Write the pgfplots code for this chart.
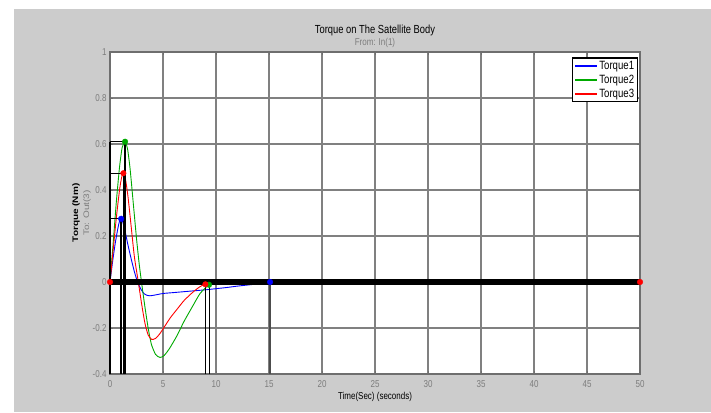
\documentclass[border=0pt]{standalone}
\usepackage{graphicx}
\usepackage{fontspec}
\setmainfont{Liberation Sans}[FakeStretch=0.8]
\newfontfamily\ylabfont{Liberation Sans}
\usepackage{pgfplots}
\pgfplotsset{compat=1.18}
\definecolor{bggray}{RGB}{204,204,204}
\definecolor{gridgray}{RGB}{128,128,128}
\definecolor{framegray}{RGB}{110,110,110}
\definecolor{ticklab}{RGB}{125,125,125}
\definecolor{mblue}{RGB}{0,0,255}
\definecolor{mgreen}{RGB}{0,170,0}
\definecolor{mred}{RGB}{255,0,0}
\begin{document}
\begin{tikzpicture}
\useasboundingbox (-110pt,-38pt) rectangle (601pt,374pt);
\fill[white] (-110pt,-38pt) rectangle (601pt,374pt);
\fill[bggray] (-96pt,-38pt) rectangle (601pt,365pt);
\begin{axis}[
  at={(0pt,0pt)}, anchor=south west,
  scale only axis, width=530pt, height=322pt,
  xmin=0, xmax=50, ymin=-0.4, ymax=1,
  axis background/.style={fill=white},
  xtick={0,5,...,50},
  xticklabels={0,5,10,15,20,25,30,35,40,45,50},
  ytick={-0.4,-0.2,0,0.2,0.4,0.6,0.8,1},
  yticklabels={-0.4,-0.2,0,0.2,0.4,0.6,0.8,1},
  tick label style={font=\fontsize{10}{12}\selectfont, text=ticklab},
  xticklabel style={yshift=-3pt},
  grid=major,
  major grid style={color=gridgray, line width=1.1pt},
  axis line style={color=framegray, line width=1.5pt},
  tick style={color=framegray, line width=0.8pt},
  tick align=inside, major tick length=3pt,
  legend style={at={(0.996,0.983)}, anchor=north east, draw=black, line width=1.2pt,
    fill=white, font=\fontsize{12}{13}\selectfont, inner xsep=2pt, inner ysep=2pt,
    row sep=1.5pt, nodes={inner sep=1.2pt}},
  legend cell align=left,
  legend image code/.code={\draw[#1, line width=2pt] (0pt,0pt) -- (22pt,0pt);},
  clip=false,
]
\addplot[color=mblue, line width=0.9pt, smooth, tension=0.4] coordinates {
(0,0) (0.25,0.09) (0.5,0.17) (0.75,0.235) (0.9,0.265) (1.05,0.275) (1.2,0.262) (1.4,0.225)
(1.7,0.16) (2.0,0.10) (2.3,0.045) (2.6,0.0) (2.9,-0.03) (3.2,-0.05) (3.5,-0.058) (3.77,-0.06)
(4.2,-0.057) (5,-0.05) (6,-0.046) (7,-0.042) (8,-0.038) (9,-0.034) (10,-0.029) (11,-0.024)
(12,-0.018) (13,-0.013) (14,-0.008) (15.1,-0.004) (17,-0.001) (20,0) (50,0)};
\addlegendentry{Torque1}
\addplot[color=mgreen, line width=0.9pt, smooth, tension=0.4] coordinates {
(0,0) (0.3,0.17) (0.6,0.35) (0.9,0.50) (1.15,0.585) (1.42,0.61) (1.65,0.58) (1.9,0.49)
(2.2,0.34) (2.5,0.19) (2.75,0.08) (3.0,-0.01) (3.3,-0.11) (3.6,-0.20) (3.9,-0.27) (4.3,-0.315)
(4.72,-0.328) (5.1,-0.32) (5.6,-0.29) (6.3,-0.235) (7.0,-0.17) (7.8,-0.105) (8.5,-0.05)
(9.34,-0.012) (10,-0.005) (12,0) (50,0)};
\addlegendentry{Torque2}
\addplot[color=mred, line width=0.9pt, smooth, tension=0.4] coordinates {
(0,0) (0.3,0.14) (0.6,0.28) (0.9,0.40) (1.1,0.455) (1.26,0.473) (1.45,0.45) (1.7,0.37)
(2.0,0.24) (2.3,0.11) (2.67,0.0) (3.0,-0.1) (3.3,-0.18) (3.6,-0.23) (3.93,-0.25) (4.3,-0.245)
(4.7,-0.225) (5.2,-0.19) (5.7,-0.155) (6.3,-0.12) (7.0,-0.08) (7.8,-0.045) (8.5,-0.02)
(9.0,-0.01) (10,-0.004) (12,0) (50,0)};
\addlegendentry{Torque3}
% final value line
\addplot[black, line width=6.5pt, forget plot] coordinates {(0,0) (50,0)};
% peak marker lines
\addplot[black, line width=1.3pt, forget plot] coordinates {(1.05,-0.4) (1.05,0.275)};
\addplot[black, line width=1.3pt, forget plot] coordinates {(0,0.275) (1.05,0.275)};
\addplot[black, line width=1.3pt, forget plot] coordinates {(1.26,-0.4) (1.26,0.473)};
\addplot[black, line width=1.3pt, forget plot] coordinates {(0,0.473) (1.26,0.473)};
\addplot[black, line width=1.3pt, forget plot] coordinates {(1.42,-0.4) (1.42,0.61)};
\addplot[black, line width=1.3pt, forget plot] coordinates {(0,0.61) (1.42,0.61)};
\addplot[black, line width=1.5pt, forget plot] coordinates {(0,-0.4) (0,0.61)};
% settling lines
\addplot[black, line width=0.8pt, forget plot] coordinates {(9.0,-0.4) (9.0,-0.01)};
\addplot[black, line width=0.8pt, forget plot] coordinates {(9.34,-0.4) (9.34,-0.012)};
\addplot[black!70, line width=1.2pt, forget plot] coordinates {(15.1,-0.4) (15.1,-0.002)};
% markers
\addplot[only marks, mark=*, mark size=2.8pt, mblue, forget plot] coordinates {(1.05,0.275) (15.1,0)};
\addplot[only marks, mark=*, mark size=2.8pt, mgreen, forget plot] coordinates {(1.42,0.61) (9.34,-0.012)};
\addplot[only marks, mark=*, mark size=2.8pt, mred, forget plot] coordinates {(1.26,0.473) (9.0,-0.01) (0,0) (50,0)};
\end{axis}
\node[font=\fontsize{11.7}{13}\selectfont, anchor=base] at (265pt,340pt) {Torque on The Satellite Body};
\node[font=\fontsize{10}{12}\selectfont, text=ticklab] at (265pt,331pt) {From: In(1)};
\node[font=\fontsize{10}{12}\selectfont] at (265pt,-23pt) {Time(Sec) (seconds)};
\node[rotate=90] at (-34pt,161pt) {\scalebox{1}[0.8]{\ylabfont\bfseries\fontsize{10}{12}\selectfont Torque (Nm)}};
\node[rotate=90, text=ticklab] at (-23pt,161pt) {\scalebox{1}[0.8]{\ylabfont\fontsize{10}{12}\selectfont To: Out(3)}};
\end{tikzpicture}
\end{document}
